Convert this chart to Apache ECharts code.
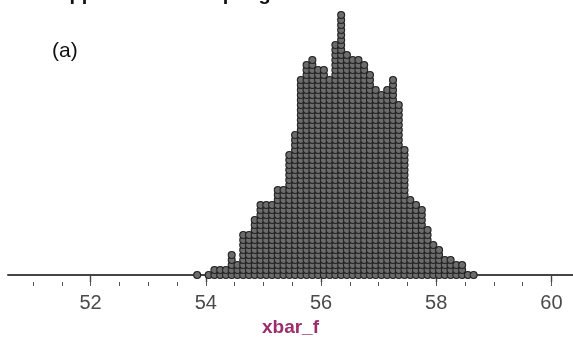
<!DOCTYPE html>
<html>
<head>
<meta charset="utf-8">
<script src="https://cdn.jsdelivr.net/npm/echarts@6/dist/echarts.min.js"></script>
<style>
html,body{margin:0;padding:0;background:#fff;}
#c{width:573px;height:349px;}
</style>
</head>
<body>
<div id="c"></div>
<script>
// bin centres of the dot plot (xbar_f values) and number of stacked dots in each
var binCenters = [53.85,53.95,54.05,54.15,54.25,54.35,54.45,54.55,54.65,54.75,
  54.85,54.95,55.05,55.15,55.25,55.35,55.45,55.55,55.65,55.75,
  55.85,55.95,56.05,56.15,56.25,56.35,56.45,56.55,56.65,56.75,
  56.85,56.95,57.05,57.15,57.25,57.35,57.45,57.55,57.65,57.75,
  57.85,57.95,58.05,58.15,58.25,58.35,58.45,58.55,58.65];
var dotCounts = [1,0,1,2,2,2,5,3,9,9,
  12,15,15,15,18,18,25,29,40,43,
  44,42,42,40,47,53,45,44,44,43,
  41,38,37,38,40,35,26,16,15,14,
  10,7,6,4,4,3,3,1,1];
var majorTicks = [52,54,56,58,60];
var minorTicks = [51,51.5,52,52.5,53,53.5,54,54.5,55,55.5,56,56.5,57,57.5,58,58.5,59,59.5,60];
var axisName = 'xbar_f';
var panelLabel = '(a)';
var headText = 'Approximate sampling distribution';

var pts = [];
for (var i = 0; i < binCenters.length; i++) {
  for (var k = 0; k < dotCounts[i]; k++) {
    pts.push([binCenters[i], k]);
  }
}

var X_MIN = 50.566, X_MAX = 60.375;
var FONT = 'Liberation Sans, Arial, sans-serif';
var chart = echarts.init(document.getElementById('c'), null, {renderer: 'canvas'});
chart.setOption({
  animation: false,
  backgroundColor: '#ffffff',
  grid: {left: 8, right: 0, top: 0, bottom: 67, containLabel: false},
  xAxis: [{
    type: 'value', min: X_MIN, max: X_MAX, position: 'bottom', offset: 0,
    name: axisName, nameLocation: 'middle', nameGap: 35,
    nameTextStyle: {color: '#9b2d6c', fontSize: 19, fontWeight: 'bold', fontFamily: FONT},
    axisLine: {show: true, lineStyle: {color: '#444', width: 2}},
    axisTick: {show: true, length: 7, customValues: majorTicks, lineStyle: {color: '#444', width: 1.4}},
    axisLabel: {show: true, customValues: majorTicks, margin: 11, color: '#4a4a4a', fontSize: 20, fontFamily: FONT},
    splitLine: {show: false}
  }, {
    type: 'value', min: X_MIN, max: X_MAX, position: 'bottom', offset: 0,
    axisLine: {show: false},
    axisTick: {show: true, length: 4, customValues: minorTicks, lineStyle: {color: '#555', width: 1}},
    axisLabel: {show: false},
    splitLine: {show: false}
  }],
  yAxis: {type: 'value', min: -1.4, max: 55, show: false},
  graphic: [{
    type: 'text', left: 52, top: 41,
    style: {text: panelLabel, fontSize: 21, fill: '#111', fontFamily: FONT}
  }, {
    type: 'text', left: 55, top: -16,
    style: {text: headText, fontSize: 20, fontWeight: 'bold', fill: '#111', fontFamily: FONT}
  }],
  series: [{
    type: 'scatter',
    xAxisIndex: 0,
    data: pts,
    symbol: 'circle',
    symbolSize: 7,
    silent: true,
    itemStyle: {color: '#6c6c6c', borderColor: '#242424', borderWidth: 1.1, opacity: 1}
  }]
});
</script>
</body>
</html>
